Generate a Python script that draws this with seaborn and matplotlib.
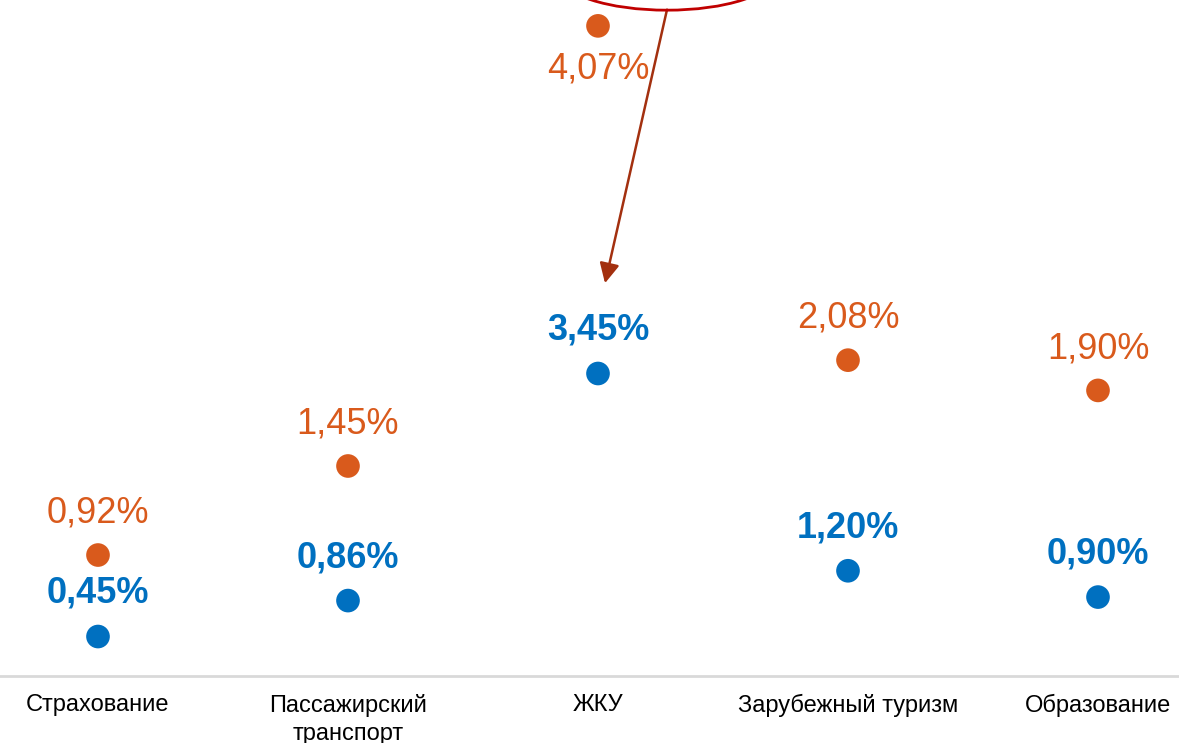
import matplotlib
matplotlib.use("Agg")
import matplotlib.pyplot as plt
import numpy as np
import pandas as pd
import seaborn as sns
from matplotlib.patches import Ellipse

# ── Data ──────────────────────────────────────────────────────────────────────
categories = ["Страхование", "Пассажирский\nтранспорт", "ЖКУ", "Зарубежный туризм", "Образование"]
blue_values = [0.45, 0.86, 3.45, 1.20, 0.90]
orange_values = [0.92, 1.45, 4.07, 2.08, 1.90]
blue_labels = ["0,45%", "0,86%", "3,45%", "1,20%", "0,90%"]
orange_labels = ["0,92%", "1,45%", "4,07%", "2,08%", "1,90%"]
orange_label_below = [False, False, True, False, False]

BLUE = "#0070C0"
ORANGE = "#D95A1C"
ARROW = "#A3300F"
ELLIPSE = "#C00000"

sns.set_theme(style="white")
plt.rcParams["font.family"] = ["Liberation Sans", "DejaVu Sans"]

df = pd.DataFrame({"category": categories, "blue": blue_values, "orange": orange_values})

fig = plt.figure(figsize=(11.79, 7.43), dpi=100)
ax = fig.add_axes([0, 0.0902, 1, 0.9098])
ax2 = ax.twinx()

sns.scatterplot(data=df, x="category", y="blue", ax=ax, color=BLUE, s=290,
                edgecolor="none", legend=False, zorder=3)
sns.scatterplot(data=df, x="category", y="orange", ax=ax2, color=ORANGE, s=290,
                edgecolor="none", legend=False, zorder=3)

ax.set_xlim(-0.392, 4.324)
ax.set_ylim(0, 7.71)
ax2.set_ylim(0.20, 4.224)

for i, (v, lab) in enumerate(zip(blue_values, blue_labels)):
    ax.annotate(lab, (i, v), xytext=(0, 31), textcoords="offset points",
                ha="center", va="center", fontsize=26, fontweight="bold", color=BLUE)

for i, (v, lab, below) in enumerate(zip(orange_values, orange_labels, orange_label_below)):
    ax2.annotate(lab, (i, v), xytext=(0, -31 if below else 30), textcoords="offset points",
                 ha="center", va="center", fontsize=26, color=ORANGE)

# callout ellipse (cut by the top edge) and arrow to the ЖКУ point
ax.add_patch(Ellipse((2.276, 7.993), 0.856, 0.798, fill=False, edgecolor=ELLIPSE,
                     linewidth=2, clip_on=False, zorder=4))
ax.annotate("", xy=(2.028, 4.48), xytext=(2.276, 7.6),
            arrowprops=dict(arrowstyle="-|>", color=ARROW, lw=1.8, mutation_scale=30,
                            shrinkA=0, shrinkB=0), annotation_clip=False)

for a in (ax, ax2):
    for side in ("top", "left", "right"):
        a.spines[side].set_visible(False)
    a.set_yticks([])
    a.set_ylabel("")
    a.set_xlabel("")
ax2.spines["bottom"].set_visible(False)
ax.spines["bottom"].set_color("#D9D9D9")
ax.spines["bottom"].set_linewidth(2)

ax.set_xticks(range(len(categories)))
ax.set_xticklabels(categories, fontsize=17, color="#000000")
ax.tick_params(axis="x", length=0, pad=13)
for t in ax.get_xticklabels():
    t.set_linespacing(1.35)

fig.savefig("out.png", dpi=100)
